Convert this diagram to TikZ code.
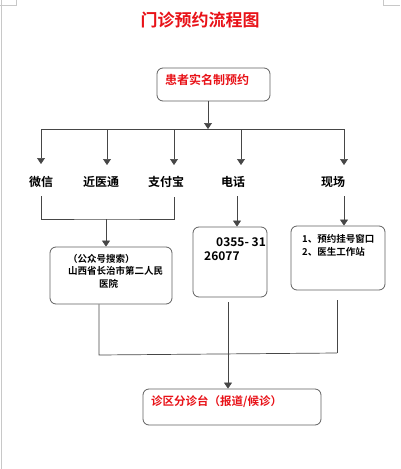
\documentclass[tikz,border=0pt]{standalone}
\usepackage{fontspec}
\setmainfont{Noto Sans CJK SC}[BoldFont={Noto Sans CJK SC Bold}]
\usepackage{xcolor}
\usetikzlibrary{arrows.meta}
\definecolor{titlered}{RGB}{232,18,24}
\definecolor{linegray}{RGB}{70,70,70}
\definecolor{boxgray}{RGB}{95,95,95}
\definecolor{pagegray}{RGB}{200,200,200}

\begin{document}
\begin{tikzpicture}[
    x=1pt, y=-1pt,
    box/.style={draw=boxgray, rounded corners=6pt, line width=0.8pt, inner sep=0pt},
    txt/.style={font=\bfseries\fontsize{#1}{#1}\selectfont, inner sep=0pt, align=left},
    txt/.default=12,
    redtxt/.style={txt=#1, text=titlered},
    redtxt/.default=12,
    lbl/.style={font=\bfseries\fontsize{12}{12}\selectfont, inner sep=0pt},
    ln/.style={draw=linegray, line width=0.7pt},
    arr/.style={ln, -{Triangle[width=8pt,length=6pt]}}
  ]
  \useasboundingbox (0,0) rectangle (400,469);
  % Page marks
  \draw[pagegray, line width=0.8pt] (1,0) -- (1,469);
  \draw[pagegray, line width=0.6pt] (0,5) -- (16,5) -- (16,0);
  \draw[pagegray, line width=0.6pt] (400,5) -- (383,5) -- (383,0);

  % Title
  \node[redtxt=17] (title) at (200,20) {门诊预约流程图};

  % Registration
  \node[box, minimum width=113pt, minimum height=33pt] (reg) at (213.5,84.5) {};
  \node[redtxt, anchor=west] (regtxt) at (165,80) {患者实名制预约};

  % Channel bus
  \coordinate (busL) at (41,129);
  \coordinate (busM) at (208,129);
  \coordinate (busR) at (344,129);
  \draw[arr] (reg.south -| busM) -- (busM);
  \draw[ln] (busL) -- (busR);

  % Channels
  \node[lbl] (wx) at (41,182) {微信};
  \node[lbl] (jyt) at (101,182) {近医通};
  \node[lbl] (zfb) at (166,182) {支付宝};
  \node[lbl] (dh) at (233,182) {电话};
  \node[lbl] (xc) at (333,182) {现场};
  \coordinate (a1) at (41,164);
  \coordinate (a2) at (107,165);
  \coordinate (a3) at (174,165);
  \coordinate (a4) at (241,165);
  \coordinate (a5) at (344,165);
  \foreach \a in {a1,a2,a3,a4,a5}
    \draw[arr] (\a |- busL) -- (\a);

  % Boxes
  \node[box, minimum width=122pt, minimum height=57pt] (gzh) at (111,275.5) {};
  \node[txt=9.5, anchor=north west] (gzhtxt) at (68,254)
    {（公众号搜索）\\[3pt]山西省长治市第二人民\\[3pt]\hspace{31pt}医院};
  \node[box, minimum width=74pt, minimum height=70pt] (tel) at (230,262) {};
  \node[txt, anchor=north west] (teltxt) at (204,237)
    {\hspace{12pt}0355- 31\\[2pt]26077};
  \node[box, minimum width=94pt, minimum height=64pt] (site) at (338,258) {};
  \node[txt=9.5, anchor=north west] (sitetxt) at (302,234)
    {1、预约挂号窗口\\[3.5pt]2、医生工作站};

  % Channel links
  \coordinate (wxB) at (41,196);
  \coordinate (zfbB) at (174,197);
  \coordinate (jA) at (106,219);
  \coordinate (dhB) at (237,196);
  \coordinate (xcB) at (344,196);
  \draw[ln] (wxB) |- (jA) -| (zfbB);
  \draw[arr] (jA) -- (jA |- gzh.north);
  \draw[arr] (dhB) -- (dhB |- tel.north);
  \draw[arr] (xcB) -- (xcB |- site.north);

  % Triage desk
  \node[box, minimum width=178pt, minimum height=36pt] (desk) at (232,407) {};
  \node[redtxt=11.5, anchor=west] (desktxt) at (151,402) {诊区分诊台（报道/候诊）};

  % Merge
  \coordinate (bL) at (99,355);
  \coordinate (bM) at (228,354);
  \coordinate (bR) at (337,353);
  \draw[ln] (bL |- gzh.south) -- (bL) -- (bR);
  \draw[ln, shorten <=10pt] (bR |- site.south) -- (bR);
  \draw[arr, shorten <=5pt] (bM |- tel.south) -- (bM |- desk.north);
\end{tikzpicture}
\end{document}
